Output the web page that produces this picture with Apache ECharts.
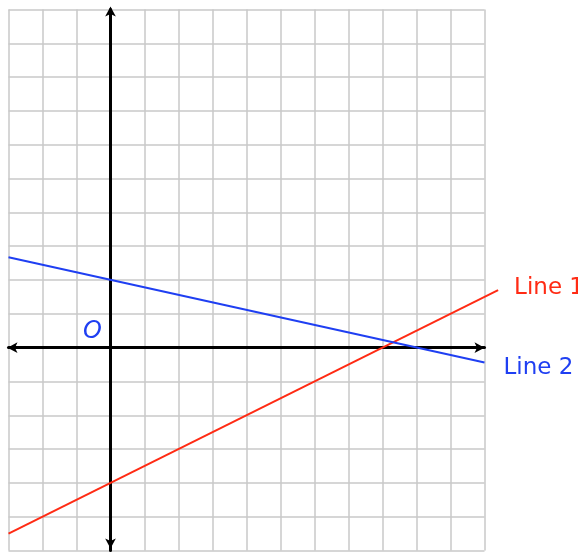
<!DOCTYPE html>
<html>
<head>
    <meta charset="utf-8" />
    <title>Line 1 / Line 2</title>
    <style>
        html, body { margin: 0; padding: 0; background: #fff; }
        #chart { width: 578px; height: 552px; }
    </style>
</head>
<body>
    <div id="chart"></div>
    <script src="https://cdn.jsdelivr.net/npm/echarts@6/dist/echarts.min.js"></script>
    <script>
        // grid range
        const xRange = [-3, 11];
        const yRange = [-6, 10];
        // Line 1 : y = x/2 - 4
        const line1X = [-3, 11.4];
        const line1Y = [-5.5, 1.7];
        // Line 2 : y = 2 - 2x/9
        const line2X = [-3, 11];
        const line2Y = [2.67, -0.44];
        const labels = ['Line 1', 'Line 2', 'O'];

        const red = '#ff2b14';
        const blue = '#1f3ff2';
        const font = '"DejaVu Sans", sans-serif';

        const zip = function (xs, ys) {
            return xs.map(function (x, i) { return [x, ys[i]]; });
        };
        const last = function (arr) { return arr[arr.length - 1]; };

        const chart = echarts.init(document.getElementById('chart'));
        const axisCommon = {
            type: 'value',
            interval: 1,
            axisLabel: { show: false },
            axisTick: { show: false },
            splitLine: { show: true, lineStyle: { color: '#c8c8c8', width: 1.5 } },
            axisLine: {
                show: true,
                onZero: true,
                symbol: ['arrow', 'arrow'],
                symbolSize: [8, 10],
                lineStyle: { color: '#000', width: 3 }
            }
        };
        const textStyle = function (color) {
            return { color: color, fontFamily: font, fontSize: 23 };
        };

        chart.setOption({
            animation: false,
            backgroundColor: '#fff',
            grid: { left: 8.5, top: 9.5, width: 476, height: 541 },
            xAxis: Object.assign({}, axisCommon, {
                min: xRange[0], max: xRange[1],
                axisLine: Object.assign({}, axisCommon.axisLine, { symbolOffset: [-1, 0] })
            }),
            yAxis: Object.assign({}, axisCommon, {
                min: yRange[0], max: yRange[1],
                axisLine: Object.assign({}, axisCommon.axisLine, { symbolOffset: [2, 3] })
            }),
            series: [{
                type: 'lines',
                coordinateSystem: 'cartesian2d',
                clip: false,
                z: 1,
                data: [{
                    coords: zip(line1X, line1Y),
                    lineStyle: { color: red, width: 2, opacity: 1 }
                }, {
                    coords: zip(line2X, line2Y),
                    lineStyle: { color: blue, width: 2, opacity: 1 }
                }]
            }, {
                type: 'scatter',
                clip: false,
                symbolSize: 0,
                silent: true,
                itemStyle: { opacity: 1 },
                data: [{
                    value: [last(line1X), last(line1Y)],
                    label: Object.assign({ formatter: labels[0], offset: [0, -2.5], distance: 16 }, textStyle(red))
                }, {
                    value: [last(line2X), last(line2Y)],
                    label: Object.assign({ formatter: labels[1], offset: [0, 5.5], distance: 19 }, textStyle(blue))
                }, {
                    value: [0, 0],
                    label: Object.assign({
                        formatter: labels[2], position: 'inside', offset: [-18, -16],
                        fontStyle: 'italic'
                    }, textStyle(blue), { fontSize: 24 })
                }],
                label: { show: true, position: 'right' }
            }]
        });
    </script>
</body>
</html>
